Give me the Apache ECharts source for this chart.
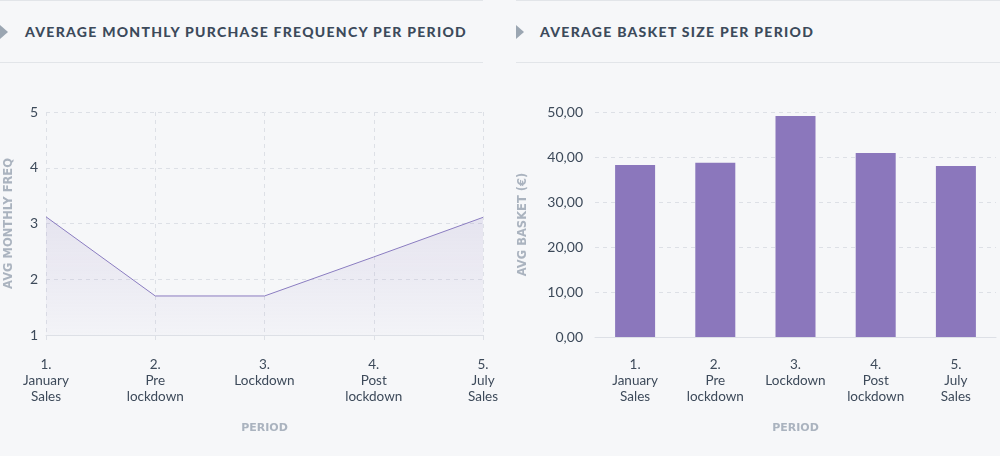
<!DOCTYPE html>
<html>
<head>
<meta charset="utf-8">
<script src="https://cdn.jsdelivr.net/npm/echarts@6/dist/echarts.min.js"></script>
<style>
  html, body { margin:0; padding:0; background:#f6f7f9; }
  #wrap { position:relative; width:1000px; height:456px; overflow:hidden; background:#f6f7f9; }
  #chart { position:absolute; left:0; top:0; width:1000px; height:456px; }
  .panel-head { position:absolute; top:0; height:63px; border-top:1px solid #e2e5e9; border-bottom:1px solid #e2e5e9; box-sizing:border-box; }
  .tri { position:absolute; top:25px; width:0; height:0; border-top:7px solid transparent; border-bottom:7px solid transparent; border-left:8px solid #9ba6b2; }
  .ttl { position:absolute; top:22px; font-family:Lato, "Open Sans", sans-serif; font-weight:900; font-size:14px; letter-spacing:1.27px; color:#3c4a5b; white-space:nowrap; line-height:20px; }
</style>
</head>
<body>
<div id="wrap">
  <div class="panel-head" style="left:0;width:483px;"></div>
  <div class="panel-head" style="left:516px;width:484px;"></div>
  <div class="tri" style="left:0;"></div>
  <div class="tri" style="left:516px;"></div>
  <div class="ttl" style="left:25px;">AVERAGE MONTHLY PURCHASE FREQUENCY PER PERIOD</div>
  <div class="ttl" style="left:540px;">AVERAGE BASKET SIZE PER PERIOD</div>
  <div id="chart"></div>
</div>
<script>
const periods = ['1.\nJanuary\nSales', '2.\nPre\nlockdown', '3.\nLockdown', '4.\nPost\nlockdown', '5.\nJuly\nSales'];
const avgMonthlyFreq = [3.12, 1.70, 1.70, 2.40, 3.11];
const avgBasket = [38.2, 38.7, 49.1, 40.9, 38.0];
const freqTicks = { min: 1, max: 5, interval: 1 };
const basketTicks = { min: 0, max: 50, interval: 10 };

const FONT = 'Lato, "Open Sans", sans-serif';
const NAMEFONT = '"DejaVu Sans", sans-serif';
const labelColor = '#3d4a5a';
const nameColor = '#aab3bf';
const gridColor = '#dde0e6';

const chart = echarts.init(document.getElementById('chart'), null, { renderer: 'canvas' });
chart.setOption({
  backgroundColor: 'transparent',
  animation: false,
  grid: [
    { left: 46, top: 112, width: 437, height: 223, containLabel: false },
    { left: 595, top: 112, width: 401, height: 225, containLabel: false }
  ],
  xAxis: [
    {
      gridIndex: 0, type: 'category', data: periods, boundaryGap: false,
      name: 'PERIOD', nameLocation: 'middle', nameGap: 88,
      nameTextStyle: { fontFamily: NAMEFONT, fontWeight: 'bold', fontSize: 11, color: nameColor },
      axisLine: { lineStyle: { color: gridColor, width: 1 } },
      axisTick: { show: true, length: 5, lineStyle: { color: gridColor } },
      axisLabel: { fontFamily: FONT, fontSize: 13.5, color: labelColor, lineHeight: 16, margin: 22, interval: 0 },
      splitLine: { show: true, lineStyle: { color: gridColor, type: [4, 4] } }
    },
    {
      gridIndex: 1, type: 'category', data: periods, boundaryGap: true,
      name: 'PERIOD', nameLocation: 'middle', nameGap: 86,
      nameTextStyle: { fontFamily: NAMEFONT, fontWeight: 'bold', fontSize: 11, color: nameColor },
      axisLine: { lineStyle: { color: gridColor, width: 1 } },
      axisTick: { show: false },
      axisLabel: { fontFamily: FONT, fontSize: 13.5, color: labelColor, lineHeight: 16, margin: 20, interval: 0 },
      splitLine: { show: false }
    }
  ],
  yAxis: [
    {
      gridIndex: 0, type: 'value', min: freqTicks.min, max: freqTicks.max, interval: freqTicks.interval,
      name: 'AVG MONTHLY FREQ', nameLocation: 'middle', nameGap: 31, nameRotate: 90,
      nameTextStyle: { fontFamily: NAMEFONT, fontWeight: 'bold', fontSize: 11.5, color: nameColor },
      axisLine: { show: false }, axisTick: { show: false },
      axisLabel: { fontFamily: FONT, fontSize: 14, color: labelColor, margin: 8 },
      splitLine: { show: true, lineStyle: { color: gridColor, type: [4, 4] } }
    },
    {
      gridIndex: 1, type: 'value', min: basketTicks.min, max: basketTicks.max, interval: basketTicks.interval,
      name: 'AVG BASKET (€)', nameLocation: 'middle', nameGap: 66, nameRotate: 90,
      nameTextStyle: { fontFamily: NAMEFONT, fontWeight: 'bold', fontSize: 11.5, color: nameColor },
      axisLine: { show: false }, axisTick: { show: false },
      axisLabel: { fontFamily: FONT, fontSize: 14, color: labelColor, margin: 12,
        formatter: v => v.toFixed(2).replace('.', ',') },
      splitLine: { show: true, lineStyle: { color: gridColor, type: [4, 4] } }
    }
  ],
  series: [
    {
      type: 'line', xAxisIndex: 0, yAxisIndex: 0, data: avgMonthlyFreq,
      symbol: 'none', lineStyle: { color: '#8a7cc0', width: 1 },
      areaStyle: {
        origin: 'start',
        color: new echarts.graphic.LinearGradient(0, 0, 0, 1, [
          { offset: 0, color: 'rgba(139,122,190,0.22)' },
          { offset: 1, color: 'rgba(139,122,190,0.04)' }
        ])
      }
    },
    {
      type: 'bar', xAxisIndex: 1, yAxisIndex: 1, data: avgBasket,
      barWidth: 40, itemStyle: { color: '#8b77bc' }
    }
  ]
});
</script>
</body>
</html>
